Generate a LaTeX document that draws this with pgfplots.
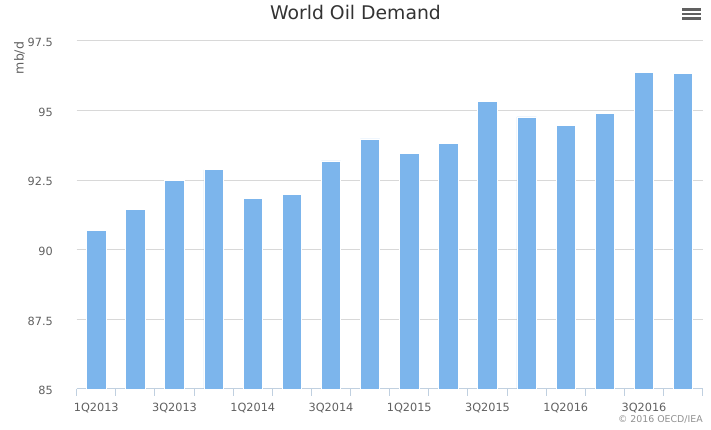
\documentclass[border=0pt]{standalone}
\usepackage{pgfplots}
\pgfplotsset{compat=1.18}
\usepackage{fontspec}
\setmainfont{DejaVu Sans}
\definecolor{barcol}{HTML}{7CB5EC}
\definecolor{gridcol}{HTML}{D8D8D8}
\definecolor{axiscol}{HTML}{C0D0E0}
\definecolor{labcol}{HTML}{606060}
\definecolor{titlecol}{HTML}{333333}
\definecolor{credcol}{HTML}{909090}
\begin{document}
\begin{tikzpicture}
\path[use as bounding box] (0,0) rectangle (711bp,430bp);
\begin{axis}[
  at={(76.7bp,41bp)}, anchor=south west,
  scale only axis, width=626bp, height=348bp,
  xmin=-0.5, xmax=15.5, ymin=85, ymax=97.5,
  ybar, bar width=19.3bp,
  axis lines*=left,
  x axis line style={-, draw=axiscol, line width=1bp},
  y axis line style={draw=none},
  ymajorgrids, major grid style={draw=gridcol, line width=1bp},
  ytick={85,87.5,90,92.5,95,97.5},
  yticklabels={85,87.5,90,92.5,95,97.5},
  ytick style={draw=none},
  yticklabel style={anchor=east, inner sep=0pt, xshift=-16.7bp, yshift=-1.5bp, font=\fontsize{11.3bp}{13bp}\selectfont, text=labcol},
  xtick={-0.5,0.5,...,15.5},
  xticklabels={},
  tick align=outside,
  major tick length=7bp,
  xtick style={draw=axiscol, line width=1bp},
  extra x ticks={0,2,4,6,8,10,12,14},
  extra x tick labels={1Q2013,3Q2013,1Q2014,3Q2014,1Q2015,3Q2015,1Q2016,3Q2016},
  extra x tick style={major tick length=0pt, xtick style={draw=none}},
  xticklabel style={anchor=north, inner sep=0pt, yshift=-14bp, font=\fontsize{11.3bp}{13bp}\selectfont, text=labcol},
  clip=true,
]
\addplot[fill=barcol, draw=white, line width=0.8bp] coordinates {
  (0,90.71) (1,91.45) (2,92.48) (3,92.87) (4,91.86) (5,91.98) (6,93.19) (7,93.98)
  (8,93.46) (9,93.82) (10,95.32) (11,94.77) (12,94.46) (13,94.89) (14,96.38) (15,96.35)
};
\end{axis}
\node[text=titlecol, font=\fontsize{18.8bp}{22bp}\selectfont] at (355.5bp,418bp) {World Oil Demand};
\node[rotate=90, text=labcol, font=\fontsize{12.5bp}{14bp}\selectfont] at (19.5bp,372bp) {mb/d};
\node[anchor=east, inner sep=0pt, text=credcol, font=\fontsize{9.4bp}{11bp}\selectfont] at (703bp,11bp) {© 2016 OECD/IEA};
\foreach \yy in {420.5,416,411.5}{
  \draw[draw=labcol, line width=2.5bp] (682bp,\yy bp) -- (701bp,\yy bp);
}
\end{tikzpicture}
\end{document}
